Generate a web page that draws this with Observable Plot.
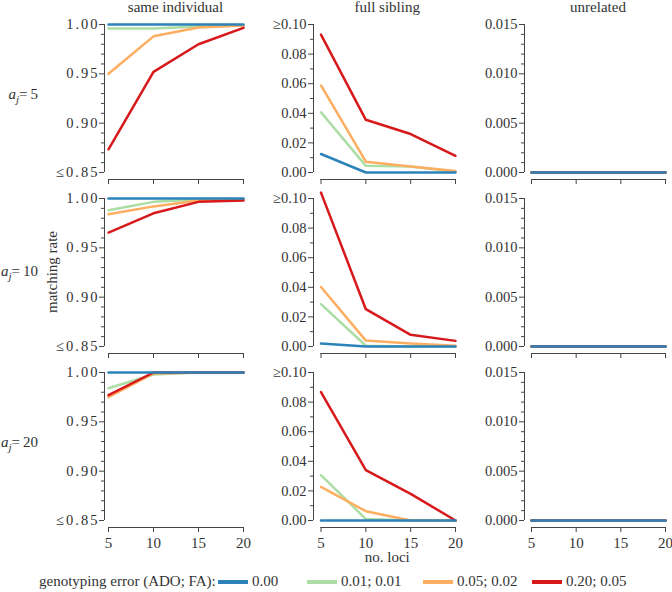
<!DOCTYPE html>
<html>
<head>
<meta charset="utf-8">
<script src="https://cdn.jsdelivr.net/npm/d3@7"></script>
<script src="https://cdn.jsdelivr.net/npm/@observablehq/plot@0.6"></script>
<style>
  body { margin: 0; background: #fff; }
  #chart { position: relative; width: 672px; height: 592px; font-family: "Liberation Serif", "Times New Roman", Tinos, "DejaVu Serif", serif; color: #333; overflow: hidden; background: #fff; }
  #chart svg { position: absolute; overflow: visible; background: transparent; font-family: "Liberation Serif", "Times New Roman", Tinos, "DejaVu Serif", serif !important; }
  #chart svg text { font-family: "Liberation Serif", "Times New Roman", Tinos, "DejaVu Serif", serif !important; }
  .lab { position: absolute; white-space: nowrap; font-size: 15px; line-height: 15px; color: #333; }
  .sw { position: absolute; height: 4px; width: 30px; }
</style>
</head>
<body>
<div id="chart"></div>
<script>
// ---------------- data ----------------
const loci = [5, 10, 15, 20];
const errorLevels = ["0.00", "0.01; 0.01", "0.05; 0.02", "0.20; 0.05"];
const errorColors = ["#2b83ba", "#abdda4", "#fdae61", "#d7191c"];
const relationships = ["same individual", "full sibling", "unrelated"];
const alleleCounts = [5, 10, 20];

// each array: one row per error level (order of errorLevels), one value per number of loci
const sameInd_a5  = [[1, 1, 1, 1], [0.996, 0.996, 0.998, 0.999], [0.950, 0.988, 0.997, 0.999], [0.8735, 0.952, 0.980, 0.9966]];
const sameInd_a10 = [[1, 1, 1, 1], [0.988, 0.9966, 0.999, 0.999], [0.984, 0.992, 0.998, 0.999], [0.9655, 0.985, 0.9966, 0.998]];
const sameInd_a20 = [[1, 1, 1, 1], [0.984, 0.998, 1, 1], [0.975, 0.999, 1, 1], [0.977, 1, 1, 1]];

const fullSib_a5  = [[0.0125, 0, 0, 0], [0.0407, 0.0045, 0.004, 0.0005], [0.0588, 0.0073, 0.004, 0.001], [0.0932, 0.0356, 0.026, 0.0113]];
const fullSib_a10 = [[0.002, 0, 0, 0], [0.0286, 0.0005, 0, 0], [0.0402, 0.004, 0.002, 0.0005], [0.104, 0.0252, 0.0079, 0.0038]];
const fullSib_a20 = [[0, 0, 0, 0], [0.0306, 0.001, 0, 0], [0.0227, 0.0063, 0, 0], [0.0868, 0.034, 0.018, 0]];

const unrel_a5  = [[0, 0, 0, 0], [0, 0, 0, 0], [0, 0, 0, 0], [0, 0, 0, 0]];
const unrel_a10 = [[0, 0, 0, 0], [0, 0, 0, 0], [0, 0, 0, 0], [0, 0, 0, 0]];
const unrel_a20 = [[0, 0, 0, 0], [0, 0, 0, 0], [0, 0, 0, 0], [0, 0, 0, 0]];

// y tick labels (major ticks) per column
const yTicksSame = [0.85, 0.90, 0.95, 1.00];
const yTicksSib = [0, 0.02, 0.04, 0.06, 0.08, 0.10];
const yTicksUnrel = [0, 0.005, 0.010, 0.015];

// ---------------- layout ----------------
const FONT = '"Liberation Serif", "Times New Roman", Tinos, "DejaVu Serif", serif';
const panelValues = [
  [sameInd_a5, fullSib_a5, unrel_a5],
  [sameInd_a10, fullSib_a10, unrel_a10],
  [sameInd_a20, fullSib_a20, unrel_a20]
];
const yDomains = [[0.85, 1.0], [0, 0.10], [0, 0.015]];
const majorTicks = [yTicksSame, yTicksSib, yTicksUnrel];
const minorStep = [0.01, 0.01, 0.001];
const minorTicks = majorTicks.map((t, i) => {
  const [a, b] = yDomains[i];
  const n = Math.round((b - a) / minorStep[i]);
  return d3.range(n + 1).map(k => +(a + k * minorStep[i]).toFixed(4))
    .filter(v => !t.some(m => Math.abs(m - v) < 1e-9));
});
const yFormats = [
  d => Math.abs(d - 0.85) < 1e-9 ? "≤0.85" : d.toFixed(2),
  d => Math.abs(d - 0.10) < 1e-9 ? "≥0.10" : d.toFixed(2),
  d => d.toFixed(3)
];

const colAxisX = [104, 312.5, 524];
const colDataX0 = [108, 320, 531];
const colDataW = [135, 134.5, 134];
const rowTop = [24, 198, 372];
const dataH = 148;
const insetB = 7;
const ML = 64, MR = 12, MT = 16;

const chart = document.getElementById("chart");
const drawOrder = [1, 2, 3, 0];

for (let ri = 0; ri < 3; ri++) {
  for (let ci = 0; ci < 3; ci++) {
    const vals = panelValues[ri][ci];
    const data = [];
    for (const k of drawOrder) loci.forEach((l, i) => data.push({loci: l, value: vals[k][i], error: errorLevels[k]}));
    const isBottom = ri === 2;
    const MB = isBottom ? 34 : 10;
    const inset = colDataX0[ci] - colAxisX[ci];
    const width = ML + inset + colDataW[ci] + MR;
    const height = MT + dataH + insetB + MB;
    const yd = yDomains[ci];
    const svg = Plot.plot({
      width, height,
      marginLeft: ML, marginRight: MR, marginTop: MT, marginBottom: MB,
      x: {domain: [5, 20], insetLeft: inset, insetRight: 0, label: null},
      y: {domain: yd, insetBottom: insetB, insetTop: 0, label: null},
      color: {domain: errorLevels, range: errorColors},
      style: {fontFamily: FONT, fontSize: "14.5px", color: "#333", background: "transparent", overflow: "visible"},
      marks: [
        Plot.axisY(minorTicks[ci], {tickSize: 3, tickFormat: () => "", stroke: "#444", label: null}),
        Plot.axisY(majorTicks[ci], {tickSize: 5, tickPadding: ci === 0 ? 0 : 2, tickFormat: yFormats[ci], stroke: "#444", fill: "#333", label: null, fontSize: 14.5}),
        Plot.axisX(loci, {tickSize: 5, tickPadding: 5, tickFormat: isBottom ? (d => String(d)) : (() => ""), stroke: "#444", fill: "#333", label: null, fontSize: 15}),
        Plot.ruleX([5], {y1: yd[0], y2: yd[1], dx: -inset, stroke: "#444", strokeWidth: 1}),
        Plot.ruleY([yd[0]], {x1: 5, x2: 20, dy: insetB, stroke: "#444", strokeWidth: 1}),
        Plot.line(data, {x: "loci", y: "value", z: "error", stroke: "error", strokeWidth: 2.5})
      ]
    });
    svg.style.left = (colAxisX[ci] - ML) + "px";
    svg.style.top = (rowTop[ri] - MT) + "px";
    if (ci === 0) {
      svg.querySelectorAll('g[aria-label="y-axis tick label"] text').forEach(t => t.style.letterSpacing = "2px");
    }
    chart.appendChild(svg);
  }
}

// ---------------- annotations ----------------
function addLabel(html, left, baseline, opts = {}) {
  const d = document.createElement("div");
  d.className = "lab";
  d.innerHTML = html;
  d.style.left = left + "px";
  d.style.top = (baseline - 12.6) + "px";
  if (opts.center) d.style.transform = "translateX(-50%)";
  if (opts.right) { d.style.left = "auto"; d.style.right = (672 - left) + "px"; }
  chart.appendChild(d);
  return d;
}

relationships.forEach((r, ci) => {
  addLabel(r, colDataX0[ci] + colDataW[ci] / 2, 12.5, {center: true});
});

const rowBaselines = [100, 277, 448];
alleleCounts.forEach((a, ri) => {
  addLabel(`<i>a</i><i style="font-size:11px;position:relative;top:4px;">j</i>=&#8201;${a}`, 38, rowBaselines[ri], {right: true});
});

// y title
const yt = document.createElement("div");
yt.className = "lab";
yt.textContent = "matching rate";
yt.style.left = "51.5px";
yt.style.top = "271.5px";
yt.style.transform = "translate(-50%, -50%) rotate(-90deg)";
chart.appendChild(yt);

// x title
addLabel("no. loci", colDataX0[1] + colDataW[1] / 2, 563, {center: true});

// legend
addLabel("genotyping error (ADO; FA):", 39, 587);
const swX = [218, 307, 423, 532];
errorLevels.forEach((e, i) => {
  const s = document.createElement("div");
  s.className = "sw";
  s.style.left = swX[i] + "px";
  s.style.top = "580px";
  s.style.background = errorColors[i];
  chart.appendChild(s);
  addLabel(e, swX[i] + 34, 587);
});
</script>
</body>
</html>
